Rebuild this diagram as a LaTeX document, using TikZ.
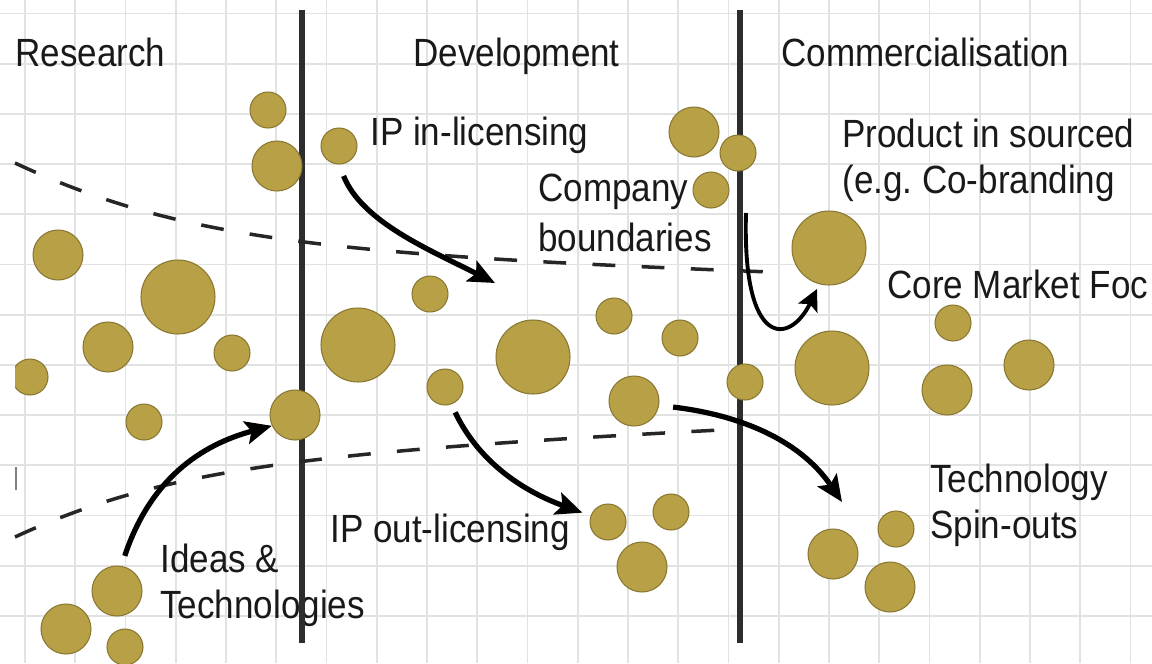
\documentclass[tikz,border=0pt]{standalone}
\usepackage{fontspec}
\setmainfont[FakeStretch=0.89]{Liberation Sans}
\usetikzlibrary{arrows.meta}

\definecolor{ballfill}{RGB}{183,160,70}
\definecolor{balledge}{RGB}{138,120,50}
\definecolor{gridgray}{RGB}{226,226,226}
\definecolor{stagebar}{RGB}{45,45,45}

\tikzset{
  ball/.style={circle, fill=ballfill, draw=balledge, line width=0.6pt, inner sep=0pt},
  ballS/.style={ball, minimum size=0.72cm},
  ballM/.style={ball, minimum size=1.0cm},
  ballL/.style={ball, minimum size=1.48cm},
  lbl/.style={anchor=base west, inner sep=0pt, text=black!90, font=\fontsize{22.4}{26}\selectfont},
  flow/.style={line width=3pt, -{Stealth[length=15pt,width=13pt,inset=3pt]}},
  flowthin/.style={line width=2.2pt, -{Stealth[length=12pt,width=12pt,inset=2.5pt]}},
  boundary/.style={line width=2pt, dash pattern=on 13pt off 15pt, black!85},
  stage/.style={line width=3.2pt, stagebar},
  gridline/.style={gridgray, line width=1pt}
}

\begin{document}
\begin{tikzpicture}[x=0.02cm, y=-0.02cm]
\useasboundingbox (0,0) rectangle (1152,663);

% grid paper
\foreach \i in {0,...,22} \draw[gridline] ({25+50.25*\i},0) -- ({25+50.25*\i},663);
\foreach \j in {0,...,12} \draw[gridline] (0,{13.5+50.2*\j}) -- (1152,{13.5+50.2*\j});

% stage headings and labels
\node[lbl] (research) at (15,66) {Research};
\node[lbl] (development) at (413,66) {Development};
\node[lbl] (commercial) at (781,66) {Commercialisation};
\node[lbl] (inlic) at (370,145) {IP in-licensing};
\node[lbl] (company1) at (538,201) {Company};
\node[lbl] (company2) at (538,251) {boundaries};
\node[lbl] (product1) at (842,147) {Product in sourced};
\node[lbl] (product2) at (842,193) {(e.g.\ Co-branding};
\node[lbl] (coremarket) at (887,298) {Core Market Foc};
\node[lbl] (spin1) at (930,492) {Technology};
\node[lbl] (spin2) at (930,538) {Spin-outs};
\node[lbl] (outlic) at (330,542) {IP out-licensing};
\node[lbl] (ideas1) at (160,572) {Ideas \&};
\node[lbl] (ideas2) at (160,618) {Technologies};

% stage separators
\draw[stage] (302,10) -- (302,643);
\draw[stage] (740,10) -- (740,643);

% company boundaries
\draw[boundary] (15,163) .. controls (180,240) and (330,255) .. (770,272);
\draw[boundary] (15,537) .. controls (160,470) and (300,452) .. (720,430);
\draw[gray, line width=1pt] (16,467) -- (16,490);

% ideas and technologies
\begin{scope}
\clip (15,0) rectangle (1152,663);
\node[ballS] (b1) at (268,110) {};
\node[ballM] (b2) at (277,166) {};
\node[ballM] (b3) at (58,255) {};
\node[ballL] (b4) at (178,297) {};
\node[ballM] (b5) at (108,347) {};
\node[ballS] (b6) at (232,353) {};
\node[ballS] (b7) at (30,377) {};
\node[ballS] (b8) at (144,422) {};
\node[ballM] (b9) at (295,415) {};
\node[ballM] (b10) at (117,591) {};
\node[ballM] (b11) at (66,629) {};
\node[ballS] (b12) at (125,647) {};
\node[ballS] (b13) at (339,146) {};
\node[ballS] (b14) at (430,294) {};
\node[ballL] (b15) at (358,345) {};
\node[ballS] (b16) at (445,387) {};
\node[ballL] (b17) at (533,357) {};
\node[ballS] (b18) at (614,316) {};
\node[ballS] (b19) at (680,338) {};
\node[ballM] (b20) at (634,401) {};
\node[ballS] (b21) at (745,382) {};
\node[ballM] (b22) at (694,132) {};
\node[ballS] (b23) at (738,153) {};
\node[ballS] (b24) at (711,190) {};
\node[ballS] (b25) at (608,522) {};
\node[ballS] (b26) at (671,512) {};
\node[ballM] (b27) at (642,567) {};
\node[ballL] (b28) at (829,248) {};
\node[ballL] (b29) at (832,368) {};
\node[ballS] (b30) at (953,323) {};
\node[ballM] (b31) at (1029,365) {};
\node[ballM] (b32) at (947,390) {};
\node[ballM] (b33) at (833,554) {};
\node[ballS] (b34) at (896,529) {};
\node[ballM] (b35) at (890,587) {};
\end{scope}

% flows
\coordinate (inEnd) at (495,283);
\coordinate (spinEnd) at (842,502);
\coordinate (bndStart) at (746,213);
\draw[flow, shorten <=7pt] (b13.south) .. controls (362,222) and (430,250) .. (inEnd);
\draw[flow, shorten <=6pt] (b10.80) .. controls (150,480) and (200,445) .. (b9.205);
\draw[flow, shorten <=5pt, shorten >=5pt] (b16.290) .. controls (478,460) and (520,490) .. (b25.160);
\draw[flow, shorten <=8pt] (b20.-10) .. controls (740,415) and (800,440) .. (spinEnd);
\draw[flowthin, shorten >=3pt] (bndStart) .. controls (742,350) and (790,345) .. (b28.255);
\end{tikzpicture}
\end{document}
